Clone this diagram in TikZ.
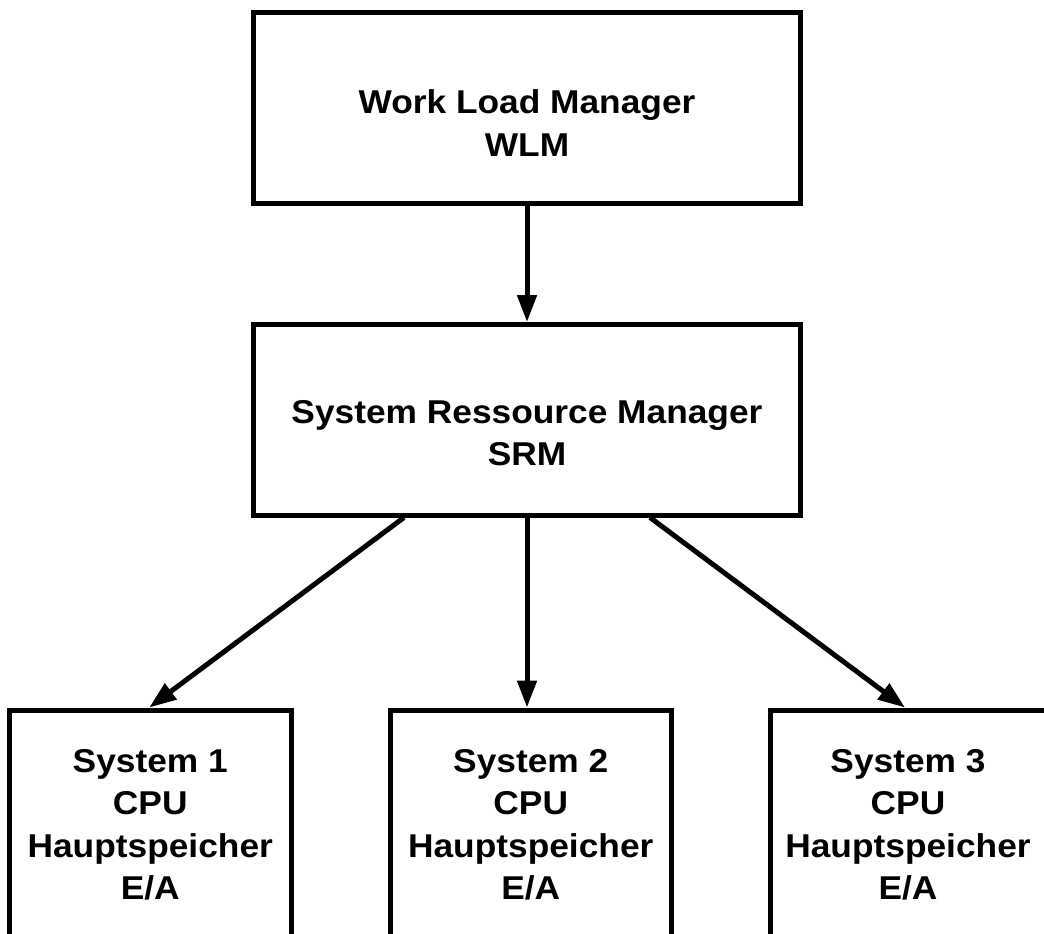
\documentclass[tikz,border=0pt]{standalone}
\usepackage{fontspec}
\setmainfont{Liberation Sans}[FakeStretch=1.07]
\usetikzlibrary{arrows.meta}
\tikzset{
  boxst/.style={draw=black, line width=5pt, rectangle, inner sep=0pt},
  lbl/.style={align=center, inner sep=0pt, font=\fontsize{33}{42.5}\selectfont\bfseries},
  arr/.style={line width=5pt, -{Triangle[length=27pt,width=19pt]}}
}
\begin{document}
\begin{tikzpicture}[x=1pt,y=1pt]
\useasboundingbox (0,0) rectangle (1044,-934);
% boxes
\node[boxst, minimum width=547pt, minimum height=190.5pt] (wlm) at (527,-107.75) {};
\node[boxst, minimum width=547pt, minimum height=190.5pt] (srm) at (527,-419.75) {};
\node[boxst, minimum width=281.5pt, minimum height=300pt] (sys1) at (150.25,-860) {};
\node[boxst, minimum width=280.5pt, minimum height=300pt] (sys2) at (530.75,-860) {};
\node[boxst, minimum width=281pt, minimum height=300pt] (sys3) at (911,-860) {};
% texts
\node[lbl] (twlm) at (527,-123) {Work Load Manager\\WLM};
\node[lbl] (tsrm) at (527,-433) {System Ressource Manager\\SRM};
\node[lbl] (t1) at (150.25,-825) {System 1\\CPU\\Hauptspeicher\\E/A};
\node[lbl] (t2) at (530.75,-825) {System 2\\CPU\\Hauptspeicher\\E/A};
\node[lbl] (t3) at (908,-825) {System 3\\CPU\\Hauptspeicher\\E/A};
% connectors
\draw[arr] (wlm.south) -- (srm.north);
\draw[arr] ([xshift=-123pt]srm.south) -- ([xshift=-1pt]sys1.north);
\draw[arr] (srm.south) -- (sys2.north -| srm.south);
\draw[arr] ([xshift=123pt]srm.south) -- ([xshift=-6pt]sys3.north);
\end{tikzpicture}
\end{document}
